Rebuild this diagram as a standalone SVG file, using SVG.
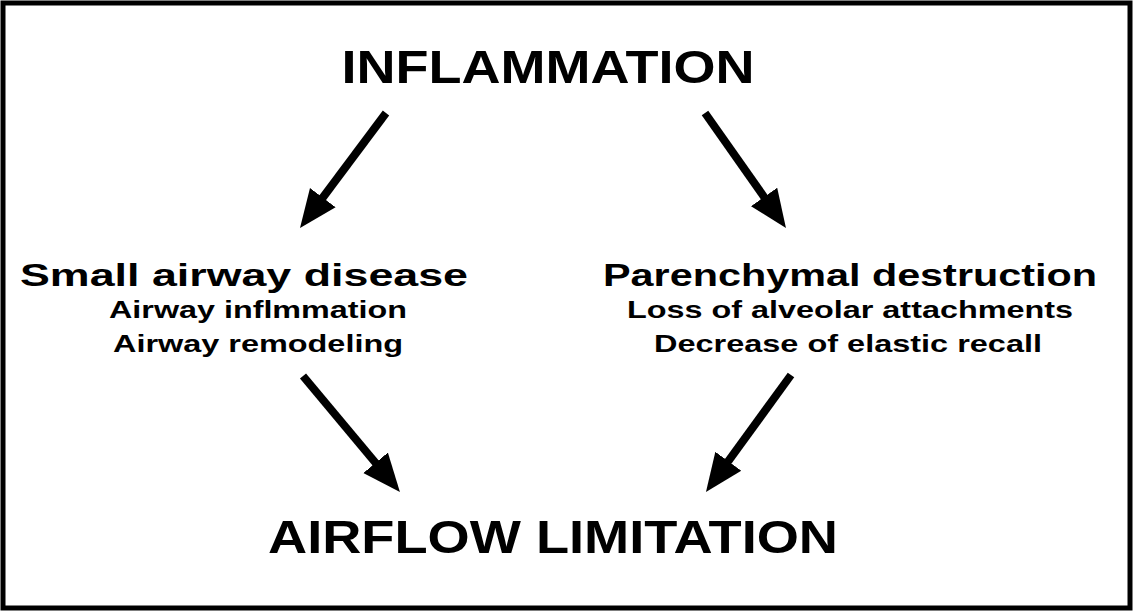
<svg xmlns="http://www.w3.org/2000/svg" width="1134" height="613" viewBox="0 0 1134 613">
<style>
text{font-family:"Liberation Sans",Arial,sans-serif;font-weight:bold;fill:#000;text-anchor:middle}
.big{font-size:47px}.mid{font-size:31px}.sm{font-size:24px}
.c{stroke:#000;stroke-width:8;fill:none;marker-end:url(#ah)}
</style>
<defs><marker id="ah" markerUnits="userSpaceOnUse" markerWidth="40" markerHeight="36" refX="8" refY="18" orient="auto"><path d="M0,2 L38,18 L0,34 Z" fill="#000"/></marker></defs>
<rect x="0" y="0" width="1134" height="613" fill="#fff"/>
<rect x="3" y="3" width="1127" height="605" fill="none" stroke="#000" stroke-width="5"/>
<g id="inflammation"><text class="big" x="548" y="83" textLength="413" lengthAdjust="spacingAndGlyphs">INFLAMMATION</text></g>
<g id="small-airway"><text class="mid" x="244" y="286" textLength="448" lengthAdjust="spacingAndGlyphs">Small airway disease</text>
<text class="sm" x="258" y="318" textLength="298" lengthAdjust="spacingAndGlyphs">Airway inflmmation</text>
<text class="sm" x="258" y="352" textLength="290" lengthAdjust="spacingAndGlyphs">Airway remodeling</text></g>
<g id="parenchymal"><text class="mid" x="850" y="286" textLength="494" lengthAdjust="spacingAndGlyphs">Parenchymal destruction</text>
<text class="sm" x="850" y="318" textLength="446" lengthAdjust="spacingAndGlyphs">Loss of alveolar attachments</text>
<text class="sm" x="848" y="352" textLength="388" lengthAdjust="spacingAndGlyphs">Decrease of elastic recall</text></g>
<g id="airflow"><text class="big" x="553" y="553" textLength="570" lengthAdjust="spacingAndGlyphs">AIRFLOW LIMITATION</text></g>
<g id="connectors">
<line class="c" x1="386" y1="113" x2="318" y2="204"/>
<line class="c" x1="705" y1="113" x2="768.7" y2="203.5"/>
<line class="c" x1="303" y1="376" x2="380.7" y2="469"/>
<line class="c" x1="791" y1="375" x2="723.6" y2="467.7"/>
</g>
</svg>
